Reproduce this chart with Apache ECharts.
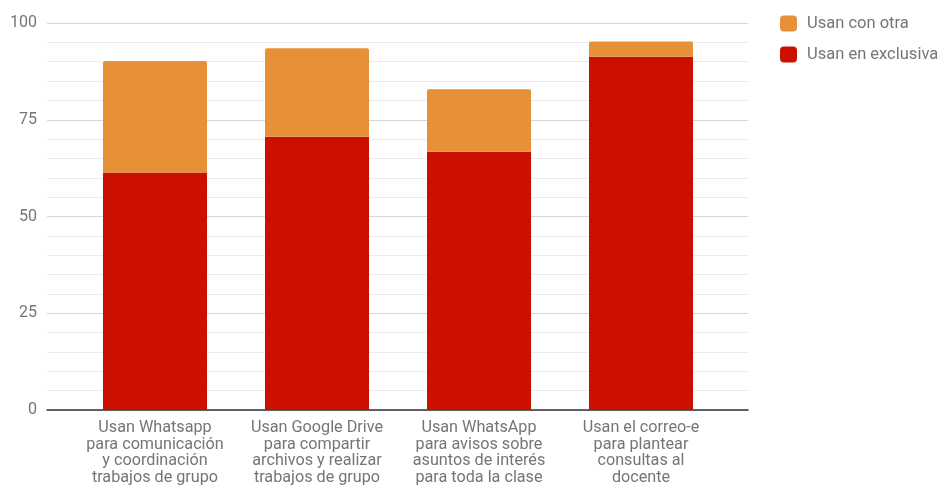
<!DOCTYPE html>
<html><head><meta charset="utf-8">
<script src="https://cdn.jsdelivr.net/npm/echarts@6/dist/echarts.min.js"></script>
<style>html,body{margin:0;padding:0;background:#fff}#c{width:946px;height:486px}</style>
</head><body><div id="c"></div>
<script>
const categories = [
  "Usan Whatsapp\npara comunicación\ny coordinación\ntrabajos de grupo",
  "Usan Google Drive\npara compartir\narchivos y realizar\ntrabajos de grupo",
  "Usan WhatsApp\npara avisos sobre\nasuntos de interés\npara toda la clase",
  "Usan el correo-e\npara plantear\nconsultas al\ndocente"
];
const exclusiva = [61.4, 70.6, 66.7, 91.3];
const conOtra = [28.8, 22.9, 16.2, 3.9];
const yTicks = [0, 25, 50, 75, 100];

const chart = echarts.init(document.getElementById('c'));
const grey = '#757575';
const font = "'Liberation Sans Narrow','Roboto',sans-serif";
chart.setOption({
  animation: false,
  legend: {
    left: 775, top: 10, orient: 'vertical', itemWidth: 17, itemHeight: 16, itemGap: 14,
    icon: 'roundRect',
    textStyle: {color: grey, fontSize: 16.5, fontFamily: 'Roboto', padding: [0, 0, 0, 5]},
    data: ['Usan con otra', 'Usan en exclusiva']
  },
  grid: [
    {left: 47, right: 198, top: 23, bottom: 76},
    {left: 74, right: 224, top: 23, bottom: 76}
  ],
  xAxis: [
    {gridIndex: 0, type: 'value', min: 0, max: 1, show: true,
     axisLine: {show: true, lineStyle: {color: '#333', width: 1.5}}, axisTick: {show: false},
     axisLabel: {show: false}, splitLine: {show: false}},
    {gridIndex: 1, type: 'category', data: categories,
     axisLine: {show: false}, axisTick: {show: false},
     axisLabel: {interval: 0, color: grey, fontSize: 16.2, lineHeight: 16.5, margin: 10, fontFamily: font}}
  ],
  yAxis: [
    {gridIndex: 0, type: 'value', min: yTicks[0], max: yTicks[yTicks.length-1], interval: 25,
     axisLine: {show: false}, axisTick: {show: false},
     axisLabel: {color: grey, fontSize: 16, margin: 10, fontFamily: 'Roboto'},
     splitLine: {lineStyle: {color: '#d6d6d6', width: 1}},
     minorTick: {show: false, splitNumber: 5},
     minorSplitLine: {show: true, lineStyle: {color: '#ebebeb', width: 1}}},
    {gridIndex: 1, type: 'value', min: 0, max: 100, show: false, splitLine: {show: false}}
  ],
  series: [
    {name: 'Usan en exclusiva', type: 'bar', stack: 's', xAxisIndex: 1, yAxisIndex: 1,
     data: exclusiva, barWidth: 104, itemStyle: {color: '#cc1000'}},
    {name: 'Usan con otra', type: 'bar', stack: 's', xAxisIndex: 1, yAxisIndex: 1,
     data: conOtra, barWidth: 104, itemStyle: {color: '#e69138', borderRadius: [2, 2, 0, 0]}}
  ]
});
</script></body></html>
